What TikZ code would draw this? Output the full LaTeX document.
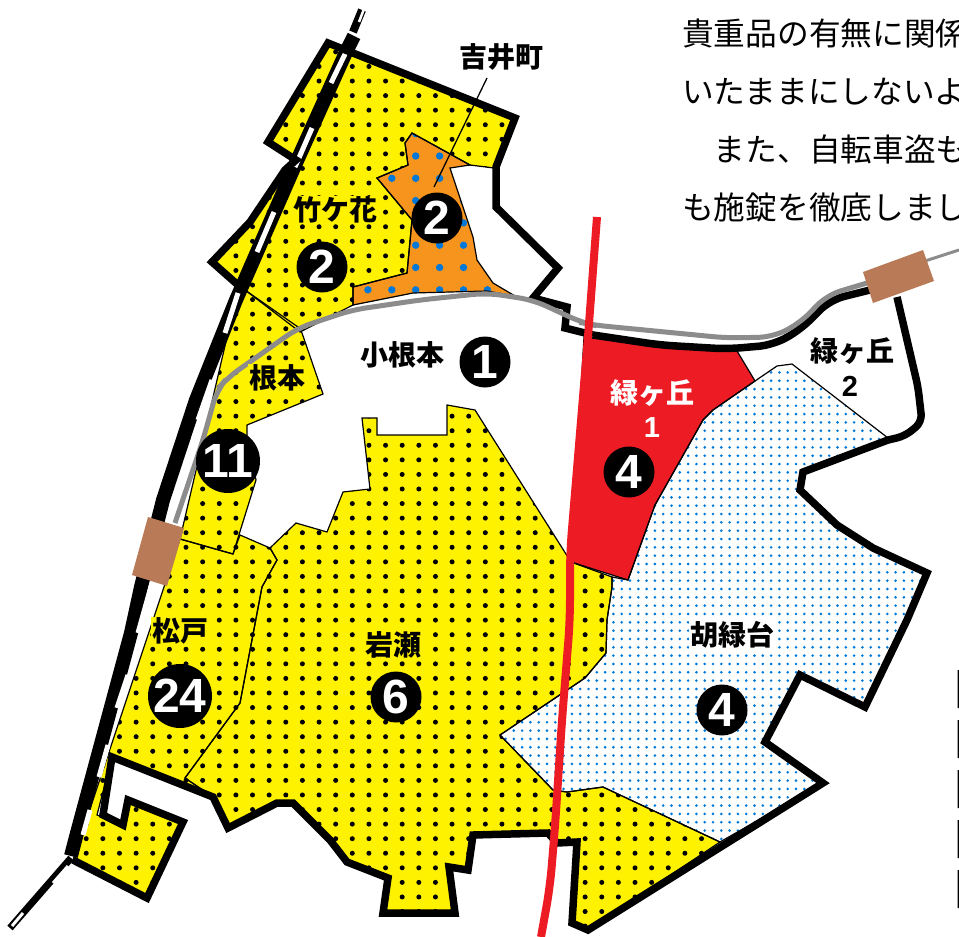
\documentclass[tikz,border=0pt]{standalone}
\usepackage{fontspec}
\setmainfont{Liberation Sans}
\newfontfamily\jp{Noto Sans CJK JP}
\definecolor{yel}{HTML}{FFF200}
\definecolor{org}{HTML}{F7941D}
\definecolor{redc}{HTML}{ED1C24}
\definecolor{dotb}{HTML}{0078D8}
\definecolor{brn}{HTML}{B97A57}
\definecolor{trk}{HTML}{8C8C8C}
\tikzset{
  thinb/.style={draw=black,line width=1.2pt,line join=miter},
  thick/.style={draw=black,line width=7.5pt,line join=miter,miter limit=4},
  num/.style={circle,fill=black,text=white,inner sep=0pt,font=\bfseries\fontsize{48}{48}\selectfont},
  numS/.style={num,minimum size=51pt},
  numL/.style={num,minimum size=64pt},
  lab/.style={font=\jp\bfseries\fontsize{28}{30}\selectfont,inner sep=1pt,text=black},
  para/.style={font=\jp\fontsize{31.7}{32}\selectfont,anchor=base west,inner sep=0pt,text=black},
  station/.style={fill=brn,draw=none},
  railwhite/.style={draw=white,line width=5pt},
}
\def\takepoly{(328,43)--(515,118)--(494,168)--(470,165)--(412,133)--(405,143)--(408,165)--(377,178)--(412,220)--(407,273)--(353,287)--(353,305)--(300,332)--(245,290)--(238,285)--(212,262)--(250,222)--(285,170)--(296,160)--(268,142)--cycle }
\def\nemotopoly{(238,290)--(245,290)--(298,327)--(302,333)--(323,394)--(247,425)--(247,437)--(256,480)--(233,554)--(180,539)--cycle }
\def\matsupoly{(180,539)--(233,554)--(240,535)--(270,548)--(277,560)--(262,587)--(240,703)--(185,778)--(213,797)--(112,757)--(97,815)--(123,825)--(128,800)--(183,822)--(147,898)--(73,860)--cycle }
\def\iwasepoly{(270,548)--(296,523)--(327,532)--(343,492)--(370,489)--(362,418)--(377,418)--(377,435)--(447,435)--(447,405)--(475,410)--(571,562)--(612,577)--(612,587)--(607,620)--(606,653)--(585,678)--(500,735)--(553,790)--(567,792)--(603,787)--(720,842)--(588,930)--(572,923)--(577,842)--(557,843)--(548,833)--(473,835)--(468,870)--(449,867)--(455,913)--(383,913)--(388,878)--(347,862)--(330,840)--(293,803)--(277,803)--(228,828)--(213,797)--(185,778)--(240,703)--(262,587)--(277,560)--cycle }
\def\orgpoly{(412,133)--(470,165)--(450,168)--(473,237)--(477,260)--(493,283)--(515,296)--(487,291)--(413,293)--(353,305)--(353,287)--(407,273)--(412,220)--(377,178)--(408,165)--(405,143)--cycle }
\def\redpoly{(584,337)--(737,351)--(755,381)--(713,410)--(703,420)--(655,505)--(628,580)--(571,562)--cycle }
\def\blupoly{(755,381)--(777,366)--(792,364)--(888,438)--(803,472)--(800,490)--(837,525)--(873,548)--(927,573)--(907,620)--(865,707)--(800,675)--(765,742)--(823,783)--(720,842)--(603,787)--(567,792)--(553,790)--(500,735)--(585,678)--(606,653)--(607,620)--(612,587)--(612,577)--(628,580)--(655,505)--(703,420)--(713,410)--cycle }
\begin{document}
\begin{tikzpicture}[x=1pt,y=-1pt]
\useasboundingbox (0,0) rectangle (959,937);
\fill[white] (0,0) rectangle (959,937);
% fills
\fill[yel] \takepoly \nemotopoly \matsupoly \iwasepoly;
\begin{scope}
  \clip \takepoly \nemotopoly \matsupoly \iwasepoly;
  \foreach \i in {-7,...,33}{\foreach \j in {-34,...,28}{
     \fill[black] ({186+16.63*\i},{532.7+14.57*\j}) circle (2.5pt);}}
\end{scope}
\fill[org] \orgpoly;
\begin{scope}
  \clip \orgpoly;
  \foreach \i in {-2,...,5}{\foreach \j in {-1,...,7}{
     \fill[dotb] ({415.7+23.9*\i},{156+22.3*\j}) circle (3.7pt);}}
\end{scope}
\begin{scope}
  \clip \blupoly;
  \foreach \i in {-15,...,37}{\foreach \j in {-25,...,34}{
     \fill[dotb] ({621.7+8.3*\i},{564+8.33*\j}) circle (1.45pt);}}
\end{scope}
\fill[redc] \redpoly;
% thin boundaries
\draw[thinb] \takepoly;
\draw[thinb] \nemotopoly;
\draw[thinb] \matsupoly;
\draw[thinb] \iwasepoly;
\draw[thinb] \orgpoly;
\draw[thinb] \redpoly;
\draw[thinb] \blupoly;
% rail
\draw[black,line width=14pt,line join=round] (354,36)--(347,50)--(296,163)--(236,300)--(196,400)--(163,500)--(141,587)--(131,633)--(77,833)--(71,856);
\draw[black,line width=7pt] (71,858)--(10,928);
\draw[white,line width=3pt] (68,866)--(53,883) (23,913)--(12,926);
\draw[black,line width=8pt] (353,32)--(362,10);
\draw[white,line width=2.5pt] (359,22)--(364,9);
\draw[railwhite] (347,50)--(331,83) (312,128)--(295,167) (274,212)--(257,252) (238,293)--(225,333) (212,380)--(198,420) (185,470)--(173,513) (152,583)--(138,633) (128,675)--(117,708) (108,745)--(99,777) (90,810)--(83,835);
% thick outer boundary
\draw[thick] (238,285)--(212,262)--(250,222)--(285,170)--(296,160)--(268,142)--(328,43)--(515,118)--(496,167)--(496,207)--(558,268)--(533,298)--(567,307)--(565,328)--(593,335);
\draw[thick,rounded corners=14pt] (593,335)--(660,345)--(727,349)--(773,345)--(800,330)--(830,300)--(870,290);
\draw[thick,rounded corners=8pt] (897,297)--(918,387)--(922,422)--(905,436)--(888,440);
\draw[thick] (888,440)--(803,472)--(800,490)--(837,525)--(873,548)--(927,573)--(907,620)--(865,707)--(800,675)--(765,742)--(823,783)--(588,930)--(572,923)--(577,842)--(557,843)--(548,833)--(473,835)--(468,870)--(449,867)--(455,913)--(383,913)--(388,878)--(347,862)--(330,840)--(293,803)--(277,803)--(228,828)--(213,797)--(112,757)--(103,815)--(123,825)--(128,800)--(183,822)--(147,898)--(73,860);
% track
\draw[trk,line width=5pt,rounded corners=14pt] (175,523)--(203,440)--(217,390)--(227,378)--(298,328)--(352,310)--(420,300)--(487,293)--(533,300)--(583,323)--(593,325)--(727,338)--(773,337)--(800,323)--(827,295)--(867,283);
\draw[trk,line width=3pt] (925,261)--(959,250);
\fill[station] (148,517)--(184,528)--(167,586)--(132,575)--cycle;
\fill[station] (863,272)--(923,250)--(934,281)--(873,303)--cycle;
% red road
\draw[redc,line width=8pt,rounded corners=20pt] (597,217)--(588,337)--(570,553)--(570,620)--(562,720)--(555,827)--(550,887)--(541,937);
% leader + labels
\node[lab] (yoshii) at (501,57) {吉井町};
\coordinate (yoshiiEnd) at (434,187);
\draw[black,line width=1.3pt] (487,78)--(yoshiiEnd);
\node[lab,fill=yel] (take) at (335,210) {竹ケ花};
\node[lab] (kone) at (402,355) {小根本};
\node[lab,fill=yel] (nemoto) at (277,378) {根本};
\node[lab,fill=yel] (matsu) at (180,631) {松戸};
\node[lab,fill=yel] (iwase) at (393,645) {岩瀬};
\node[lab,text=white] (mid1) at (652,393) {緑ヶ丘};
\node[lab,text=white,font=\bfseries\fontsize{29}{30}\selectfont] (mid1n) at (652,428) {1};
\node[lab] (mid2) at (852,351) {緑ヶ丘};
\node[lab,font=\bfseries\fontsize{29}{30}\selectfont] (mid2n) at (850,386) {2};
\node[lab,fill=white] (koro) at (732,635) {胡緑台};
% count circles
\node[numS] (c1) at (322,267) {2};
\node[numS] (c2) at (437,218) {2};
\node[numS] (c3) at (485,362) {1};
\node[numL] (c4) at (228,461) {11};
\node[numL] (c5) at (180,696) {24};
\node[numS] (c6) at (396,697) {6};
\node[numS] (c7) at (629,472) {4};
\node[numS] (c8) at (722,710) {4};
% paragraph
\begin{scope}
\clip (0,0) rectangle (959,937);
\node[para] (p1) at (682,45) {貴重品の有無に関係};
\node[para] (p2) at (682,103) {いたままにしないよ};
\node[para] (p3) at (682,161) {　また、自転車盗も};
\node[para] (p4) at (682,219) {も施錠を徹底しまし};
\end{scope}
% edge slivers
\fill[black] (957.5,670) rectangle (959,708) (957.5,720) rectangle (959,758) (957.5,770) rectangle (959,808) (957.5,820) rectangle (959,858) (957.5,870) rectangle (959,908);
\end{tikzpicture}
\end{document}
